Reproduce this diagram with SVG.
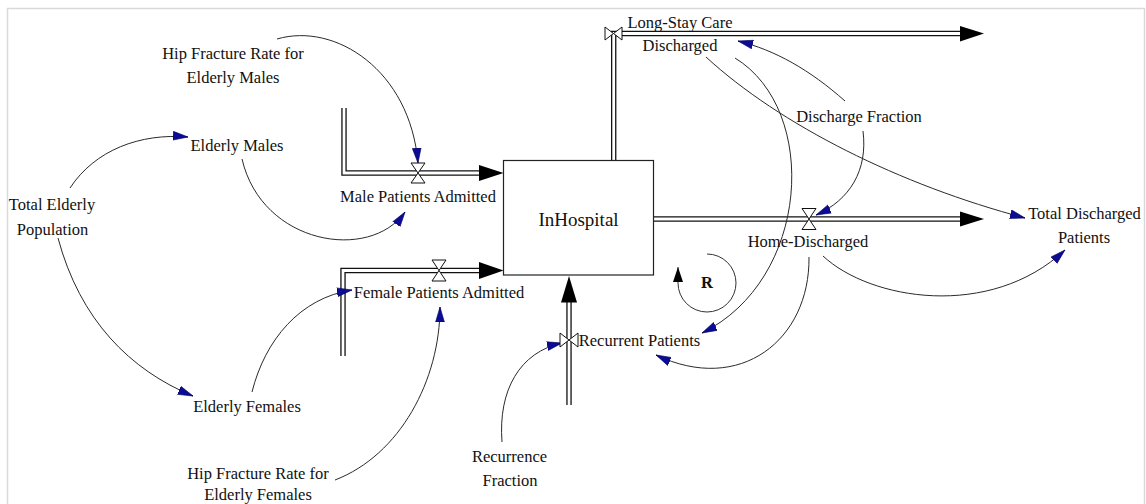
<svg xmlns="http://www.w3.org/2000/svg" width="1146" height="504" viewBox="0 0 1146 504">
<style>
text{font-family:"Liberation Serif","Times New Roman",serif;font-size:16.5px;fill:#111;text-anchor:middle}
.big{font-size:19px}
.bold{font-weight:bold}
.po{fill:none;stroke:#111;stroke-width:5.4;stroke-linejoin:miter}
.pi{fill:none;stroke:#fff;stroke-width:2.8;stroke-linejoin:miter}
.ph{fill:#000}
.valve{fill:#fff;stroke:#111;stroke-width:1}
.cn{fill:none;stroke:#2a2a2a;stroke-width:1;marker-end:url(#ca)}
.frame{stroke:#d9d9d9;stroke-width:1.5;fill:none}
</style>
<defs>
<marker id="ca" markerUnits="userSpaceOnUse" markerWidth="16" markerHeight="10" refX="15" refY="5" orient="auto" viewBox="0 0 16 10">
<path d="M0,0.6 L15,5 L0,9.4 z" fill="#0b0b96" stroke="#00005a" stroke-width="0.6"/>
</marker>
<marker id="ka" markerUnits="userSpaceOnUse" markerWidth="16" markerHeight="12" refX="15" refY="5.5" orient="auto" viewBox="0 0 16 12">
<path d="M0,0.5 L15,5.5 L0,10.5 z" fill="#000"/>
</marker>
</defs>
<rect width="1146" height="504" fill="#fff"/>
<path class="frame" d="M7.5,504 L7.5,8.5 L1144.5,8.5 L1144.5,504"/>

<g id="pipes">
<path class="po" d="M344,108 L344,173 L480,173"/><path class="pi" d="M344,108 L344,173 L480,173"/>
<path class="po" d="M343,356 L343,270.5 L480,270.5"/><path class="pi" d="M343,356 L343,270.5 L480,270.5"/>
<path class="po" d="M613.7,160 L613.7,33.5 L961,33.5"/><path class="pi" d="M613.7,160 L613.7,33.5 L961,33.5"/>
<path class="po" d="M653.5,219 L961,219"/><path class="pi" d="M653.5,219 L961,219"/>
<path class="po" d="M569,405 L569,302"/><path class="pi" d="M569,405 L569,302"/>
<polygon class="ph" points="479,165 503.5,173 479,181"/>
<polygon class="ph" points="479,262 503.5,270.5 479,279"/>
<polygon class="ph" points="960,26 984,33.5 960,41.5"/>
<polygon class="ph" points="960,211.5 984,219 960,226.5"/>
<polygon class="ph" points="561,302.5 569,276 577,302.5"/>
</g>

<g id="InHospital">
<rect x="503.5" y="160.5" width="150" height="114.5" fill="#fff" stroke="#222" stroke-width="1.2"/>
<text class="big" x="578.5" y="225.5">InHospital</text>
</g>

<g id="connectors">
<path class="cn" d="M277,39 C335,22 410,70 418,163"/>
<path class="cn" d="M70,188 C95,150 140,133 188,137"/>
<path class="cn" d="M242,159 C262,245 370,262 405,212"/>
<path class="cn" d="M58,238 C80,320 130,370 193,396"/>
<path class="cn" d="M252,392 C265,340 300,298 352,290"/>
<path class="cn" d="M335,480 C400,455 440,380 440,307"/>
<path class="cn" d="M502,442 C498,390 520,352 562,343"/>
<path class="cn" d="M845,101 C810,70 775,50 738,41"/>
<path class="cn" d="M863,131 C868,170 850,200 816,215"/>
<path class="cn" d="M706,57 C780,125 900,185 1025,218"/>
<path class="cn" d="M735,58 C820,110 810,280 702,333"/>
<path class="cn" d="M809,257 C810,340 740,395 656,355"/>
<path class="cn" d="M823,256 C870,300 990,320 1065,250"/>
</g>

<g id="loop-R">
<path d="M707,254 A29,29 0 1 1 678,283 L678,267" fill="none" stroke="#333" stroke-width="1" marker-end="url(#ka)"/>
<text class="bold" x="707" y="288">R</text>
</g>

<g id="Male-Patients-Admitted">
<path class="valve" d="M411,163 L425,163 L418,173 Z M411,183 L425,183 L418,173 Z"/>
<text x="418" y="202">Male Patients Admitted</text>
</g>
<g id="Female-Patients-Admitted">
<path class="valve" d="M432,260 L446,260 L439,270.5 Z M432,281 L446,281 L439,270.5 Z"/>
<text x="439" y="298">Female Patients Admitted</text>
</g>
<g id="Long-Stay-Care-Discharged">
<path class="valve" d="M605,27 L605,40 L613.5,33.5 Z M622,27 L622,40 L613.5,33.5 Z"/>
<text x="680" y="28">Long-Stay Care</text>
<text x="680" y="51">Discharged</text>
</g>
<g id="Home-Discharged">
<path class="valve" d="M802,208.5 L816,208.5 L809,219 Z M802,229.5 L816,229.5 L809,219 Z"/>
<text x="808" y="247">Home-Discharged</text>
</g>
<g id="Recurrent-Patients">
<path class="valve" d="M560,333 L560,347 L569,340 Z M578,333 L578,347 L569,340 Z"/>
<text x="639.5" y="345.5">Recurrent Patients</text>
</g>

<g id="Hip-Fracture-Rate-Males">
<text x="233" y="59">Hip Fracture Rate for</text>
<text x="233" y="83">Elderly Males</text>
</g>
<g id="Elderly-Males"><text x="237" y="151">Elderly Males</text></g>
<g id="Total-Elderly-Population">
<text x="52" y="209.5">Total Elderly</text>
<text x="52.5" y="234.5">Population</text>
</g>
<g id="Elderly-Females"><text x="247" y="412">Elderly Females</text></g>
<g id="Hip-Fracture-Rate-Females">
<text x="258" y="478.5">Hip Fracture Rate for</text>
<text x="258" y="499.5">Elderly Females</text>
</g>
<g id="Recurrence-Fraction">
<text x="509.5" y="462">Recurrence</text>
<text x="510" y="485.5">Fraction</text>
</g>
<g id="Discharge-Fraction"><text x="859" y="122">Discharge Fraction</text></g>
<g id="Total-Discharged-Patients">
<text x="1084.5" y="219">Total Discharged</text>
<text x="1084" y="242.5">Patients</text>
</g>
</svg>
